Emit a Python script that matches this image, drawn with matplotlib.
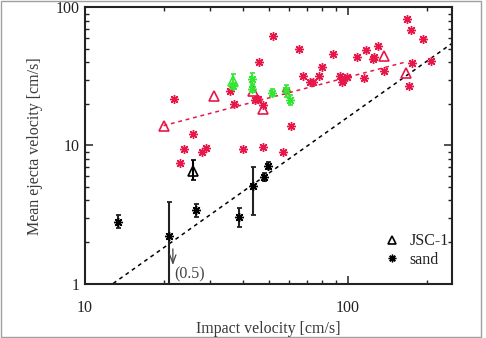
import numpy as np
import matplotlib
matplotlib.use("Agg")
import matplotlib.pyplot as plt
from matplotlib.lines import Line2D

plt.rcParams['font.family'] = ['Liberation Serif', 'DejaVu Serif']

# red asterisks
red_x = [21.9, 23.0, 23.9, 25.8, 27.8, 28.9, 35.6, 37.0, 40.0, 45.0, 45.8, 44.5,
         45.7, 47.5, 51.8, 47.7, 56.9, 58.2, 61.0, 65.1, 67.8, 72.0, 73.8, 77.8,
         79.8, 87.9, 93.5, 95.7, 99.1, 95.1, 108.2, 115.8, 117.1, 124.5, 126.0,
         130.0, 137.4, 167.7, 174.8, 171.7, 176.3, 193.0, 208.2]
red_y = [21.8, 7.5, 9.4, 12.0, 8.9, 9.5, 24.8, 20.0, 9.4, 21.5, 40.0, 21.2,
         21.8, 19.6, 61.7, 9.8, 9.0, 24.8, 13.9, 49.9, 31.8, 28.8, 28.6, 31.8,
         36.8, 45.7, 31.8, 29.8, 31.2, 28.8, 43.5, 31.0, 49.1, 42.0, 43.5,
         52.8, 34.8, 82.8, 68.5, 27.0, 39.8, 58.7, 40.9]

# red triangles
redtri_x = [19.9, 30.9, 43.5, 47.4, 137.4, 166.7]
redtri_y = [13.8, 22.7, 24.8, 18.5, 44.4, 33.7]

# green points (value, lower, upper)
green_x = [36.7, 36.7, 43.4, 43.4, 51.4, 58.1, 60.3]
green_y = [29.5, 27.0, 30.5, 25.8, 24.0, 25.1, 21.3]
green_lo = [26.0, 25.5, 28.0, 24.5, 22.8, 22.5, 19.6]
green_hi = [32.8, 28.5, 33.5, 27.2, 25.4, 27.6, 23.1]
green_tri = [True, False, False, False, False, False, False]

# black sand points
sand_x = [13.3, 20.9, 26.4, 38.5, 43.7, 48.2, 49.6]
sand_y = [2.81, 2.21, 3.41, 3.04, 5.04, 5.95, 7.14]
sand_lo = [2.52, 0.5, 3.02, 2.56, 3.14, 5.55, 6.75]
sand_hi = [3.14, 3.92, 3.77, 3.53, 6.93, 6.35, 7.55]

# black JSC-1 point
jsc_x = [25.7]
jsc_y = [6.57]
jsc_lo = [5.63]
jsc_hi = [7.85]

# fit lines
red_fit_x = [19.9, 168.0]
red_fit_y = [13.9, 40.4]
black_fit_x = [12.8, 250.0]
black_fit_y = [1.0, 55.0]

RED = '#e8174a'
GREEN = '#33e633'
AST = (8, 2, 0)

fig = plt.figure(figsize=(4.86, 3.38), dpi=100)
ax = fig.add_axes([85/486, 1-283.5/338, 367.3/486, 276.2/338])

ax.plot(black_fit_x, black_fit_y, ls=(0, (2.5, 2.5)), color='k', lw=1.1)
ax.plot(red_fit_x, red_fit_y, ls=(0, (2.5, 2.5)), color=RED, lw=1.1)

ax.plot(red_x, red_y, ls='none', marker=AST, ms=6.5, mew=1.0, color=RED)
ax.plot(redtri_x, redtri_y, ls='none', marker='^', ms=7, mfc='none', mec=RED, mew=1.2)

for x, y, lo, hi, tri in zip(green_x, green_y, green_lo, green_hi, green_tri):
    ax.errorbar([x], [y], yerr=[[y-lo], [hi-y]], fmt='^' if tri else 'none',
                ecolor=GREEN, capsize=1.8, elinewidth=1.3, capthick=1.3,
                mfc='none', mec=GREEN, ms=7, mew=1.2)
    if not tri:
        ax.plot([x], [y], marker=AST, ms=6.5, mew=1.0, color=GREEN)

sand_err = [np.array(sand_y) - np.array(sand_lo), np.array(sand_hi) - np.array(sand_y)]
ax.errorbar(sand_x, sand_y, yerr=sand_err, fmt='none', ecolor='#222222',
            capsize=1.8, elinewidth=1.5, capthick=1.3)
ax.plot(sand_x, sand_y, ls='none', marker=AST, ms=6.5, mew=1.0, color='k')

jsc_err = [np.array(jsc_y) - np.array(jsc_lo), np.array(jsc_hi) - np.array(jsc_y)]
ax.errorbar(jsc_x, jsc_y, yerr=jsc_err, fmt='^', ecolor='k', capsize=1.8,
            elinewidth=1.5, capthick=1.3, mfc='none', mec='k', ms=7, mew=1.2)

# lower limit arrow
ax.annotate('', xy=(21.6, 1.36), xytext=(21.6, 1.78),
            arrowprops=dict(arrowstyle='->,head_length=0.6,head_width=0.22',
                            color='#444444', lw=0.9, shrinkA=0, shrinkB=0))
ax.text(21.9, 1.17, '(0.5)', fontsize=11.5, color='#444444', va='center', ha='left')

ax.set_xscale('log')
ax.set_yscale('log')
ax.set_xlim(10, 250)
ax.set_ylim(1, 100)
ax.set_xticks([10, 100])
ax.set_xticklabels(['10', '100'])
ax.set_yticks([1, 10, 100])
ax.set_yticklabels(['1', '10', '100'])
ax.tick_params(which='both', direction='in', top=True, right=True, colors='#222222',
               labelsize=11.5)
ax.tick_params(which='major', length=6, width=1.1)
ax.tick_params(which='minor', length=3, width=1.0)
ax.tick_params(axis='x', pad=12)
ax.tick_params(axis='y', pad=4)
for s in ax.spines.values():
    s.set_linewidth(1.5)
    s.set_color('#222222')

handles = [Line2D([], [], ls='none', marker='^', mfc='none', mec='k', ms=6, mew=1.2),
           Line2D([], [], ls='none', marker=AST, color='k', ms=5.5, mew=1.0)]
ax.legend(handles, ['JSC-1', 'sand'], loc='lower right', bbox_to_anchor=(1.03, 0.005),
          frameon=False, fontsize=11.5, handlelength=1.0, handletextpad=0.6,
          labelspacing=0.15, labelcolor='#222222')

fig.text(268/486, 1-329/338, 'Impact velocity [cm/s]', ha='center', va='center',
         fontsize=11.5, color='#3a3a3a')
fig.text(35/486, 1-146.5/338, 'Mean ejecta velocity [cm/s]', ha='center', va='center',
         rotation=90, fontsize=11.5, color='#3a3a3a')

fig.patches.append(plt.Rectangle((1/486, 1/338), 480/486, 336/338, transform=fig.transFigure,
                                 fill=False, ec='#a0a0a0', lw=1.0))

fig.savefig('out.png', dpi=100)
